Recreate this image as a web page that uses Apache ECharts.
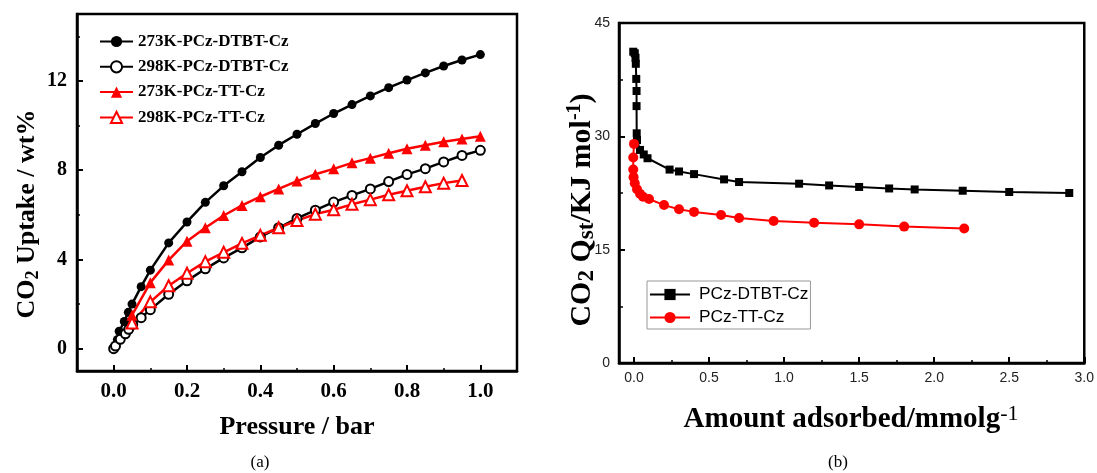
<!DOCTYPE html>
<html>
<head>
<meta charset="utf-8">
<script src="https://cdn.jsdelivr.net/npm/echarts@6/dist/echarts.min.js"></script>
<style>html,body{margin:0;padding:0;background:#fff}#c{width:1097px;height:473px}</style>
</head>
<body>
<div id="c"></div>
<script>
// ---------- Panel (a): CO2 uptake isotherms [pressure (bar), uptake (wt%)] ----------
const legendA = ['273K-PCz-DTBT-Cz', '298K-PCz-DTBT-Cz', '273K-PCz-TT-Cz', '298K-PCz-TT-Cz'];
const dtbt273 = [[0,0],[0.005,0.12],[0.01,0.4],[0.015,0.78],[0.029,1.22],[0.04,1.63],[0.05,2.0],[0.075,2.78],[0.1,3.52],[0.15,4.74],[0.2,5.68],[0.25,6.56],[0.3,7.3],[0.35,7.93],[0.4,8.57],[0.45,9.12],[0.5,9.61],[0.55,10.09],[0.6,10.54],[0.65,10.94],[0.7,11.33],[0.75,11.7],[0.8,12.04],[0.85,12.36],[0.9,12.67],[0.95,12.94],[1.0,13.18]];
const dtbt298 = [[0,0],[0.005,0.12],[0.018,0.42],[0.032,0.67],[0.041,0.87],[0.052,1.09],[0.075,1.39],[0.1,1.75],[0.15,2.44],[0.2,3.04],[0.25,3.58],[0.3,4.07],[0.35,4.52],[0.4,5.01],[0.45,5.42],[0.5,5.84],[0.55,6.21],[0.6,6.57],[0.65,6.87],[0.7,7.16],[0.75,7.49],[0.8,7.81],[0.85,8.07],[0.9,8.37],[0.95,8.66],[1.0,8.89]];
const tt273 = [[0.05,1.5],[0.1,2.96],[0.15,3.97],[0.2,4.82],[0.25,5.42],[0.3,5.97],[0.35,6.42],[0.4,6.81],[0.45,7.16],[0.5,7.51],[0.55,7.82],[0.6,8.06],[0.65,8.33],[0.7,8.54],[0.75,8.76],[0.8,8.96],[0.85,9.12],[0.9,9.27],[0.95,9.4],[1.0,9.52]];
const tt298 = [[0.05,1.15],[0.1,2.1],[0.15,2.82],[0.2,3.38],[0.25,3.9],[0.3,4.32],[0.35,4.72],[0.4,5.08],[0.45,5.42],[0.5,5.74],[0.55,6.03],[0.6,6.23],[0.65,6.47],[0.7,6.68],[0.75,6.9],[0.8,7.08],[0.85,7.26],[0.9,7.42],[0.95,7.54]];
const xTicksA = [0, 0.2, 0.4, 0.6, 0.8, 1.0];
const xMinorA = [0.1, 0.3, 0.5, 0.7, 0.9];
const yTicksA = [0, 4, 8, 12];
const yMinorA = [2, 6, 10, 14];

// ---------- Panel (b): isosteric heat [amount adsorbed (mmol/g), Qst (kJ/mol)] ----------
const legendB = ['PCz-DTBT-Cz', 'PCz-TT-Cz'];
const qstDTBT = [[-0.005,41.2],[0.005,41.0],[0.01,40.4],[0.012,39.6],[0.015,37.6],[0.017,36.0],[0.017,34.0],[0.018,30.4],[0.02,29.5],[0.04,28.2],[0.065,27.6],[0.09,27.1],[0.237,25.6],[0.3,25.35],[0.4,25.0],[0.6,24.3],[0.7,23.95],[1.1,23.73],[1.3,23.5],[1.5,23.3],[1.7,23.1],[1.87,22.97],[2.19,22.8],[2.5,22.63],[2.9,22.5]];
const qstTT = [[0,29.0],[-0.005,27.2],[-0.005,25.6],[-0.003,24.6],[0.005,23.8],[0.02,23.0],[0.04,22.4],[0.06,22.0],[0.1,21.7],[0.2,20.9],[0.3,20.35],[0.4,20.0],[0.58,19.6],[0.7,19.2],[0.93,18.8],[1.2,18.57],[1.5,18.35],[1.8,18.05],[2.2,17.8]];
const xTicksB = [0, 0.5, 1.0, 1.5, 2.0, 2.5, 3.0];
const xMinorB = [0.25, 0.75, 1.25, 1.75, 2.25, 2.75];

const SERIF = '"Liberation Serif","Times New Roman",serif';
const SANS = '"Liberation Sans",Arial,sans-serif';

const chart = echarts.init(document.getElementById('c'), null, {renderer: 'canvas'});

function hiddenAxis(grid, min, max, minorVals, pos) {
  return {
    type: 'value', gridIndex: grid, min: min, max: max, position: pos,
    axisLine: {show: false, onZero: false}, splitLine: {show: false}, axisLabel: {show: false},
    axisTick: {show: true, inside: true, length: 3, customValues: minorVals, lineStyle: {color: '#000', width: 1.5}}
  };
}

const option = {
  animation: false,
  backgroundColor: '#fff',
  grid: [
    {left: 77, top: 14, width: 440, height: 357, show: true, borderColor: '#000', borderWidth: 2.5, backgroundColor: 'transparent'},
    {left: 619, top: 23, width: 467, height: 340, show: true, borderColor: '#000', borderWidth: 2.5, backgroundColor: 'transparent'}
  ],
  xAxis: [
    {type: 'value', gridIndex: 0, min: -0.1, max: 1.1, position: 'bottom',
     axisLine: {show: true, onZero: false, lineStyle: {color: '#000', width: 2.5}}, splitLine: {show: false},
     axisTick: {show: true, inside: true, length: 6, customValues: xTicksA, lineStyle: {color: '#000', width: 2}},
     axisLabel: {customValues: xTicksA, formatter: v => v.toFixed(1), margin: 10, color: '#000', fontFamily: SERIF, fontWeight: 'bold', fontSize: 21}},
    hiddenAxis(0, -0.1, 1.1, xMinorA, 'bottom'),
    {type: 'value', gridIndex: 1, min: -0.1, max: 3.0, position: 'bottom',
     axisLine: {show: true, onZero: false, lineStyle: {color: '#000', width: 2.5}}, splitLine: {show: false},
     axisTick: {show: true, inside: true, length: 6, customValues: xTicksB, lineStyle: {color: '#000', width: 2}},
     axisLabel: {customValues: xTicksB, formatter: v => v.toFixed(1), margin: 8, color: '#222', fontFamily: SANS, fontSize: 14}},
    hiddenAxis(1, -0.1, 3.0, xMinorB, 'bottom')
  ],
  yAxis: [
    {type: 'value', gridIndex: 0, min: -1, max: 15, position: 'left',
     axisLine: {show: true, onZero: false, lineStyle: {color: '#000', width: 2.5}}, splitLine: {show: false},
     axisTick: {show: true, inside: true, length: 6, customValues: yTicksA, lineStyle: {color: '#000', width: 2}},
     axisLabel: {customValues: yTicksA, margin: 10, color: '#000', fontFamily: SERIF, fontWeight: 'bold', fontSize: 20}},
    hiddenAxis(0, -1, 15, yMinorA, 'left'),
    {type: 'value', gridIndex: 1, min: 0, max: 45, interval: 15, position: 'left',
     axisLine: {show: true, onZero: false, lineStyle: {color: '#000', width: 2.5}}, splitLine: {show: false},
     axisTick: {show: true, inside: true, length: 6, lineStyle: {color: '#000', width: 2}},
     minorTick: {show: true, splitNumber: 2, length: 4, lineStyle: {color: '#000', width: 1.5}},
     axisLabel: {margin: 9, color: '#222', fontFamily: SANS, fontSize: 14}}
  ],
  legend: [
    {data: legendA.map(n => ({name: n})), orient: 'vertical', left: 94, top: 28, itemWidth: 33, itemHeight: 14, itemGap: 8.3,
     textStyle: {fontFamily: SERIF, fontWeight: 'bold', fontSize: 17, color: '#000'}},
    {data: legendB, orient: 'vertical', left: 647, top: 281, itemWidth: 40, itemHeight: 14, itemGap: 6,
     padding: [5, 2, 3, 2], borderColor: '#999', borderWidth: 1,
     textStyle: {fontFamily: SANS, fontSize: 17.3, color: '#000', padding: [0, 0, 0, 4]}}
  ],
  series: [
    {name: legendA[0], type: 'line', xAxisIndex: 0, yAxisIndex: 0, data: dtbt273, symbol: 'circle', symbolSize: 9,
     itemStyle: {color: '#000'}, lineStyle: {color: '#000', width: 2.5}},
    {name: legendA[1], type: 'line', xAxisIndex: 0, yAxisIndex: 0, data: dtbt298, symbol: 'emptyCircle', symbolSize: 9,
     itemStyle: {color: '#000', borderWidth: 1.2}, lineStyle: {color: '#000', width: 2.5}},
    {name: legendA[2], type: 'line', xAxisIndex: 0, yAxisIndex: 0, data: tt273, symbol: 'triangle', symbolSize: 11,
     itemStyle: {color: '#ff0000'}, lineStyle: {color: '#ff0000', width: 2.5}},
    {name: legendA[3], type: 'line', xAxisIndex: 0, yAxisIndex: 0, data: tt298, symbol: 'emptyTriangle', symbolSize: 11,
     itemStyle: {color: '#ff0000', borderWidth: 1.2}, lineStyle: {color: '#ff0000', width: 2.5}},
    {name: legendB[0], type: 'line', xAxisIndex: 2, yAxisIndex: 2, data: qstDTBT, symbol: 'rect', symbolSize: 8,
     itemStyle: {color: '#000'}, lineStyle: {color: '#000', width: 2}},
    {name: legendB[1], type: 'line', xAxisIndex: 2, yAxisIndex: 2, data: qstTT, symbol: 'circle', symbolSize: 10,
     itemStyle: {color: '#ff0000'}, lineStyle: {color: '#ff0000', width: 2}}
  ],
  graphic: [
    {type: 'text', x: 27, y: 214, rotation: Math.PI / 2,
     style: {text: '{m|CO}{s|2}{m| Uptake / wt%}', align: 'center', verticalAlign: 'middle',
       rich: {m: {fontFamily: SERIF, fontWeight: 'bold', fontSize: 26, lineHeight: 30, fill: '#000'},
              s: {fontFamily: SERIF, fontWeight: 'bold', fontSize: 18, lineHeight: 16, verticalAlign: 'bottom', fill: '#000'}}}},
    {type: 'text', x: 297, y: 427,
     style: {text: 'Pressure / bar', align: 'center', verticalAlign: 'middle', fontFamily: SERIF, fontWeight: 'bold', fontSize: 26, fill: '#000'}},
    {type: 'text', x: 260, y: 463,
     style: {text: '(a)', align: 'center', verticalAlign: 'middle', fontFamily: SERIF, fontSize: 17, fill: '#000'}},
    {type: 'text', x: 582, y: 210, rotation: Math.PI / 2,
     style: {text: '{m|CO}{s|2}{m| Q}{s|st}{m|/KJ mol}{p|-1}{m|)}', align: 'center', verticalAlign: 'middle',
       rich: {m: {fontFamily: SERIF, fontWeight: 'bold', fontSize: 30, lineHeight: 34, fill: '#000'},
              s: {fontFamily: SERIF, fontWeight: 'bold', fontSize: 23, lineHeight: 25, verticalAlign: 'bottom', fill: '#000'},
              p: {fontFamily: SERIF, fontWeight: 'bold', fontSize: 20, lineHeight: 18, verticalAlign: 'top', fill: '#000'}}}},
    {type: 'text', x: 851, y: 420,
     style: {text: '{m|Amount adsorbed/mmolg}{p|-1}', align: 'center', verticalAlign: 'middle',
       rich: {m: {fontFamily: SERIF, fontWeight: 'bold', fontSize: 29, lineHeight: 34, fill: '#000'},
              p: {fontFamily: SERIF, fontSize: 22, lineHeight: 20, verticalAlign: 'top', fill: '#000'}}}},
    {type: 'text', x: 838, y: 463,
     style: {text: '(b)', align: 'center', verticalAlign: 'middle', fontFamily: SERIF, fontSize: 17, fill: '#000'}}
  ]
};
chart.setOption(option);
</script>
</body>
</html>
